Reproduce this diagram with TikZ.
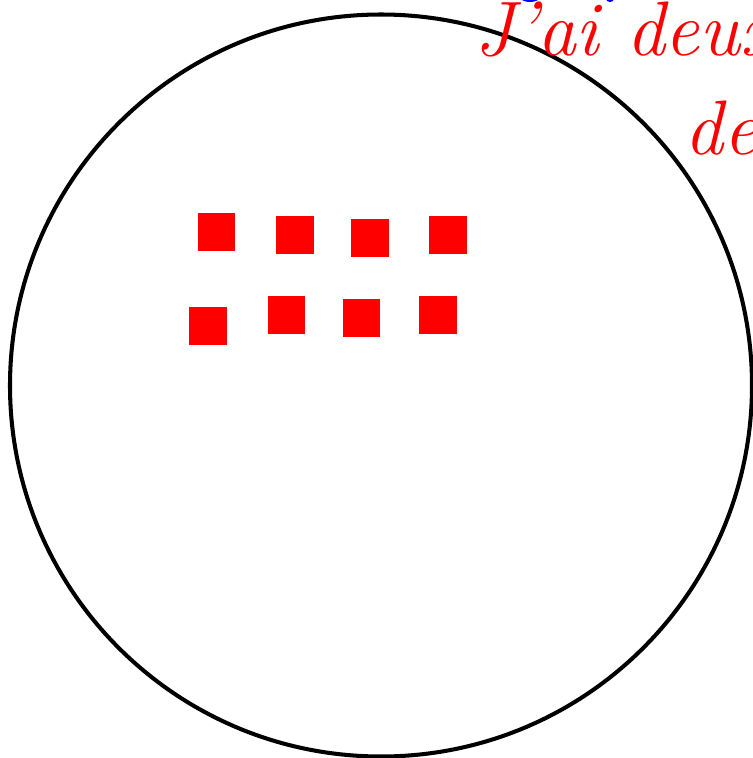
\documentclass[tikz,border=0pt]{standalone}
\usepackage{tikz}

\begin{document}
\begin{tikzpicture}[x=0.02cm, y=-0.02cm, sq/.style={fill=red, draw=none, minimum size=0.76cm, inner sep=0pt}, hand/.style={red, font=\fontsize{44}{48}\selectfont\itshape, inner sep=0pt}]
	\useasboundingbox (0,0) rectangle (753,758);
	\clip (0,0) rectangle (753,758);
	\draw[line width=2.3pt] (381,385.5) circle (371*0.02cm);
	% the two rows of squares
	\node[sq] (sq1) at (216.5,231.5) {};
	\node[sq] (sq2) at (295,234.5) {};
	\node[sq] (sq3) at (370,238) {};
	\node[sq] (sq4) at (448,234.5) {};
	\node[sq] (sq5) at (208,326) {};
	\node[sq] (sq6) at (286.5,314.5) {};
	\node[sq] (sq7) at (361.5,318) {};
	\node[sq] (sq8) at (438,314.5) {};
	% handwritten note, cut by the border
	\fill[blue] (530,-3) ellipse (10*0.02cm and 5*0.02cm);
	\fill[blue] (610,-1) ellipse (4*0.02cm and 3*0.02cm);
	\node[hand, anchor=base west] (note1) at (474,55) {J'ai deux};
	\node[hand, anchor=base west] (note2) at (684,154) {de};
\end{tikzpicture}
\end{document}
